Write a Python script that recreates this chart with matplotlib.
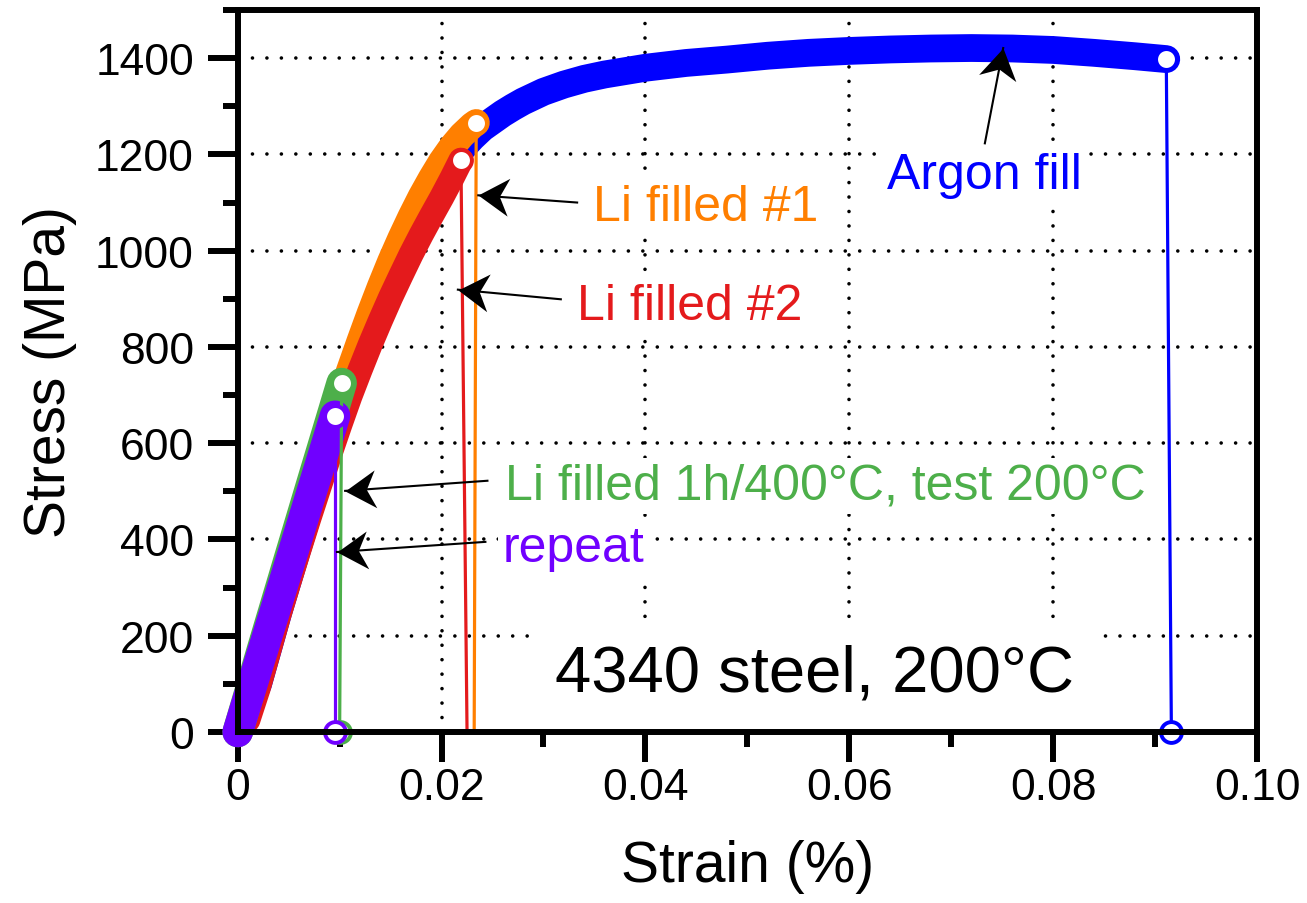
import numpy as np
import matplotlib

matplotlib.use("Agg")
import matplotlib.pyplot as plt
from matplotlib.markers import MarkerStyle
from matplotlib.path import Path
from matplotlib.ticker import FixedLocator, MultipleLocator
from matplotlib.transforms import Affine2D

plt.rcParams["font.family"] = ["Liberation Sans", "DejaVu Sans"]
plt.rcParams["lines.scale_dashes"] = False

# stress-strain traces (strain in %, stress in MPa), each ending at fracture
argon_strain = [0, 0.002, 0.004, 0.006, 0.008, 0.010, 0.012, 0.014, 0.016,
                0.018, 0.020, 0.021, 0.022, 0.023, 0.024, 0.025, 0.026, 0.027,
                0.028, 0.030, 0.032, 0.034, 0.036, 0.038, 0.040, 0.044, 0.048,
                0.052, 0.056, 0.060, 0.064, 0.068, 0.072, 0.076, 0.080, 0.084,
                0.088, 0.0911]
argon_stress = [0, 100, 250, 390, 530, 665, 785, 895, 990,
                1075, 1150, 1185, 1212, 1235, 1255, 1270, 1285, 1298,
                1310, 1330, 1345, 1357, 1366, 1373, 1380, 1390, 1397,
                1405, 1411, 1415, 1418, 1420, 1421, 1420, 1417, 1411,
                1404, 1398]

li1_strain = [0, 0.001, 0.002, 0.003, 0.004, 0.005, 0.006, 0.007, 0.008,
              0.009, 0.010, 0.011, 0.012, 0.013, 0.014, 0.015, 0.016, 0.017,
              0.018, 0.019, 0.020, 0.021, 0.022, 0.023, 0.0234]
li1_stress = [0, 40, 110, 185, 260, 330, 400, 470, 545,
              618, 690, 752, 812, 870, 925, 977, 1025, 1070,
              1112, 1150, 1185, 1215, 1240, 1260, 1266]

li2_strain = [0, 0.001, 0.002, 0.003, 0.004, 0.005, 0.006, 0.007, 0.008,
              0.009, 0.010, 0.011, 0.012, 0.013, 0.014, 0.015, 0.016, 0.017,
              0.018, 0.019, 0.020, 0.021, 0.0219]
li2_stress = [0, 25, 90, 165, 240, 310, 378, 445, 510,
              575, 637, 697, 752, 805, 855, 903, 948, 992,
              1033, 1072, 1110, 1150, 1188]

li400_strain = [0, 0.0025, 0.005, 0.0075, 0.0102]
li400_stress = [0, 180, 358, 535, 725]

repeat_strain = [0, 0.0024, 0.0048, 0.0072, 0.00955]
repeat_stress = [0, 165, 330, 495, 657]

# strain where each unloading drop reaches zero stress
argon_zero = 0.0916
li1_zero = 0.0232
li2_zero = 0.0225
li400_zero = 0.0100
repeat_zero = 0.00955

x_ticks = [0, 0.02, 0.04, 0.06, 0.08, 0.10]
x_labels = ["0", "0.02", "0.04", "0.06", "0.08", "0.10"]
y_ticks = [0, 200, 400, 600, 800, 1000, 1200, 1400]

BLUE, ORANGE, RED, GREEN, PURPLE = "#0000FF", "#FF7F00", "#E41A1C", "#4DAF4A", "#7000FF"

# stealth arrow head, tip at the origin pointing along +x
HEAD = Path([(0, 0), (-1.0, 0.62), (-0.7, 0), (-1.0, -0.62), (0, 0)],
            [Path.MOVETO, Path.LINETO, Path.LINETO, Path.LINETO, Path.CLOSEPOLY])


def arrow(ax, tail, tip):
    ax.plot([tail[0], tip[0]], [tail[1], tip[1]], color="k", lw=1.5, zorder=4)
    (x0, y0), (x1, y1) = ax.transData.transform([tail, tip])
    ang = np.degrees(np.arctan2(y1 - y0, x1 - x0))
    m = MarkerStyle(HEAD, transform=Affine2D().rotate_deg(ang))
    ax.plot(tip[0], tip[1], marker=m, ms=44, color="k", mew=0, zorder=4,
            clip_on=False)


RING = dict(marker="o", ms=15, mfc="white", mew=2.8, ls="none", clip_on=False)


def trace(ax, strain, stress, zero, color, lw, zero_marker):
    ax.plot(strain, stress, color=color, lw=lw, solid_capstyle="round",
            solid_joinstyle="round", zorder=2, clip_on=False)
    ax.plot([strain[-1], zero], [stress[-1], 0], color=color, lw=2.3,
            zorder=2.1, clip_on=False)
    ax.plot([strain[-1]], [stress[-1]], mec=color, zorder=2.2, **RING)
    if zero_marker:
        ax.plot([zero], [0], mec=color, zorder=2.2, **RING)


fig = plt.figure(figsize=(13.07, 9.04), dpi=100, facecolor="white")
ax = fig.add_axes([0.18187, 0.18916, 0.77988, 0.79867])
ax.set_xlim(0, 0.10)
ax.set_ylim(0, 1500)

trace(ax, argon_strain, argon_stress, argon_zero, BLUE, 20, True)
trace(ax, li1_strain, li1_stress, li1_zero, ORANGE, 19.5, False)
trace(ax, li2_strain, li2_stress, li2_zero, RED, 18, False)
trace(ax, li400_strain, li400_stress, li400_zero, GREEN, 22, True)
trace(ax, repeat_strain, repeat_stress, repeat_zero, PURPLE, 22, True)
ax.plot([0], [0], mec=PURPLE, zorder=1.9, **RING)

# axes frame and ticks
for side in ax.spines.values():
    side.set_linewidth(4.3)
ax.xaxis.set_major_locator(FixedLocator(x_ticks))
ax.set_xticklabels(x_labels)
ax.xaxis.set_minor_locator(MultipleLocator(0.01))
ax.yaxis.set_major_locator(FixedLocator(y_ticks))
ax.yaxis.set_minor_locator(MultipleLocator(100))
ax.tick_params(which="both", direction="out", width=4.3, top=False, right=False)
ax.tick_params(which="major", length=21.5, labelsize=32)
ax.tick_params(which="minor", length=11)
ax.tick_params(axis="x", which="major", pad=4)
ax.tick_params(axis="y", which="major", pad=10)
ax.grid(which="major", color="k", linestyle=(0, (0.01, 10.4)), linewidth=2.6,
        dash_capstyle="round")

ax.set_xlabel("Strain (%)", fontsize=41)
ax.set_ylabel("Stress (MPa)", fontsize=41)
ax.xaxis.set_label_coords(0.5, -0.148)
ax.yaxis.set_label_coords(-0.158, 0.5)

box = dict(boxstyle="square,pad=0.1", fc="white", ec="none")
ax.text(0.0733, 1130, "Argon fill", color=BLUE, fontsize=36, ha="center",
        va="baseline", bbox=box, zorder=3)
ax.text(0.0349, 1063, "Li filled #1", color=ORANGE, fontsize=36, ha="left",
        va="baseline", bbox=box, zorder=3)
ax.text(0.0333, 859, "Li filled #2", color=RED, fontsize=36, ha="left",
        va="baseline", bbox=box, zorder=3)
ax.text(0.0262, 485, "Li filled 1h/400°C, test 200°C", color=GREEN, fontsize=36,
        ha="left", va="baseline", bbox=box, zorder=3)
ax.text(0.0260, 356, "repeat", color=PURPLE, fontsize=36, ha="left",
        va="baseline", bbox=box, zorder=3)
ax.text(0.0566, 87, "4340 steel, 200°C", color="k", fontsize=47, ha="center",
        va="baseline", zorder=3,
        bbox=dict(boxstyle="square,pad=0.3", fc="white", ec="none"))

arrow(ax, (0.0733, 1223), (0.0751, 1421))
arrow(ax, (0.0333, 1100), (0.0236, 1115))
arrow(ax, (0.0317, 899), (0.0216, 919))
arrow(ax, (0.0245, 522), (0.01054, 501))
arrow(ax, (0.0243, 395), (0.00974, 374))

fig.savefig("out.png", dpi=100, facecolor="white")
